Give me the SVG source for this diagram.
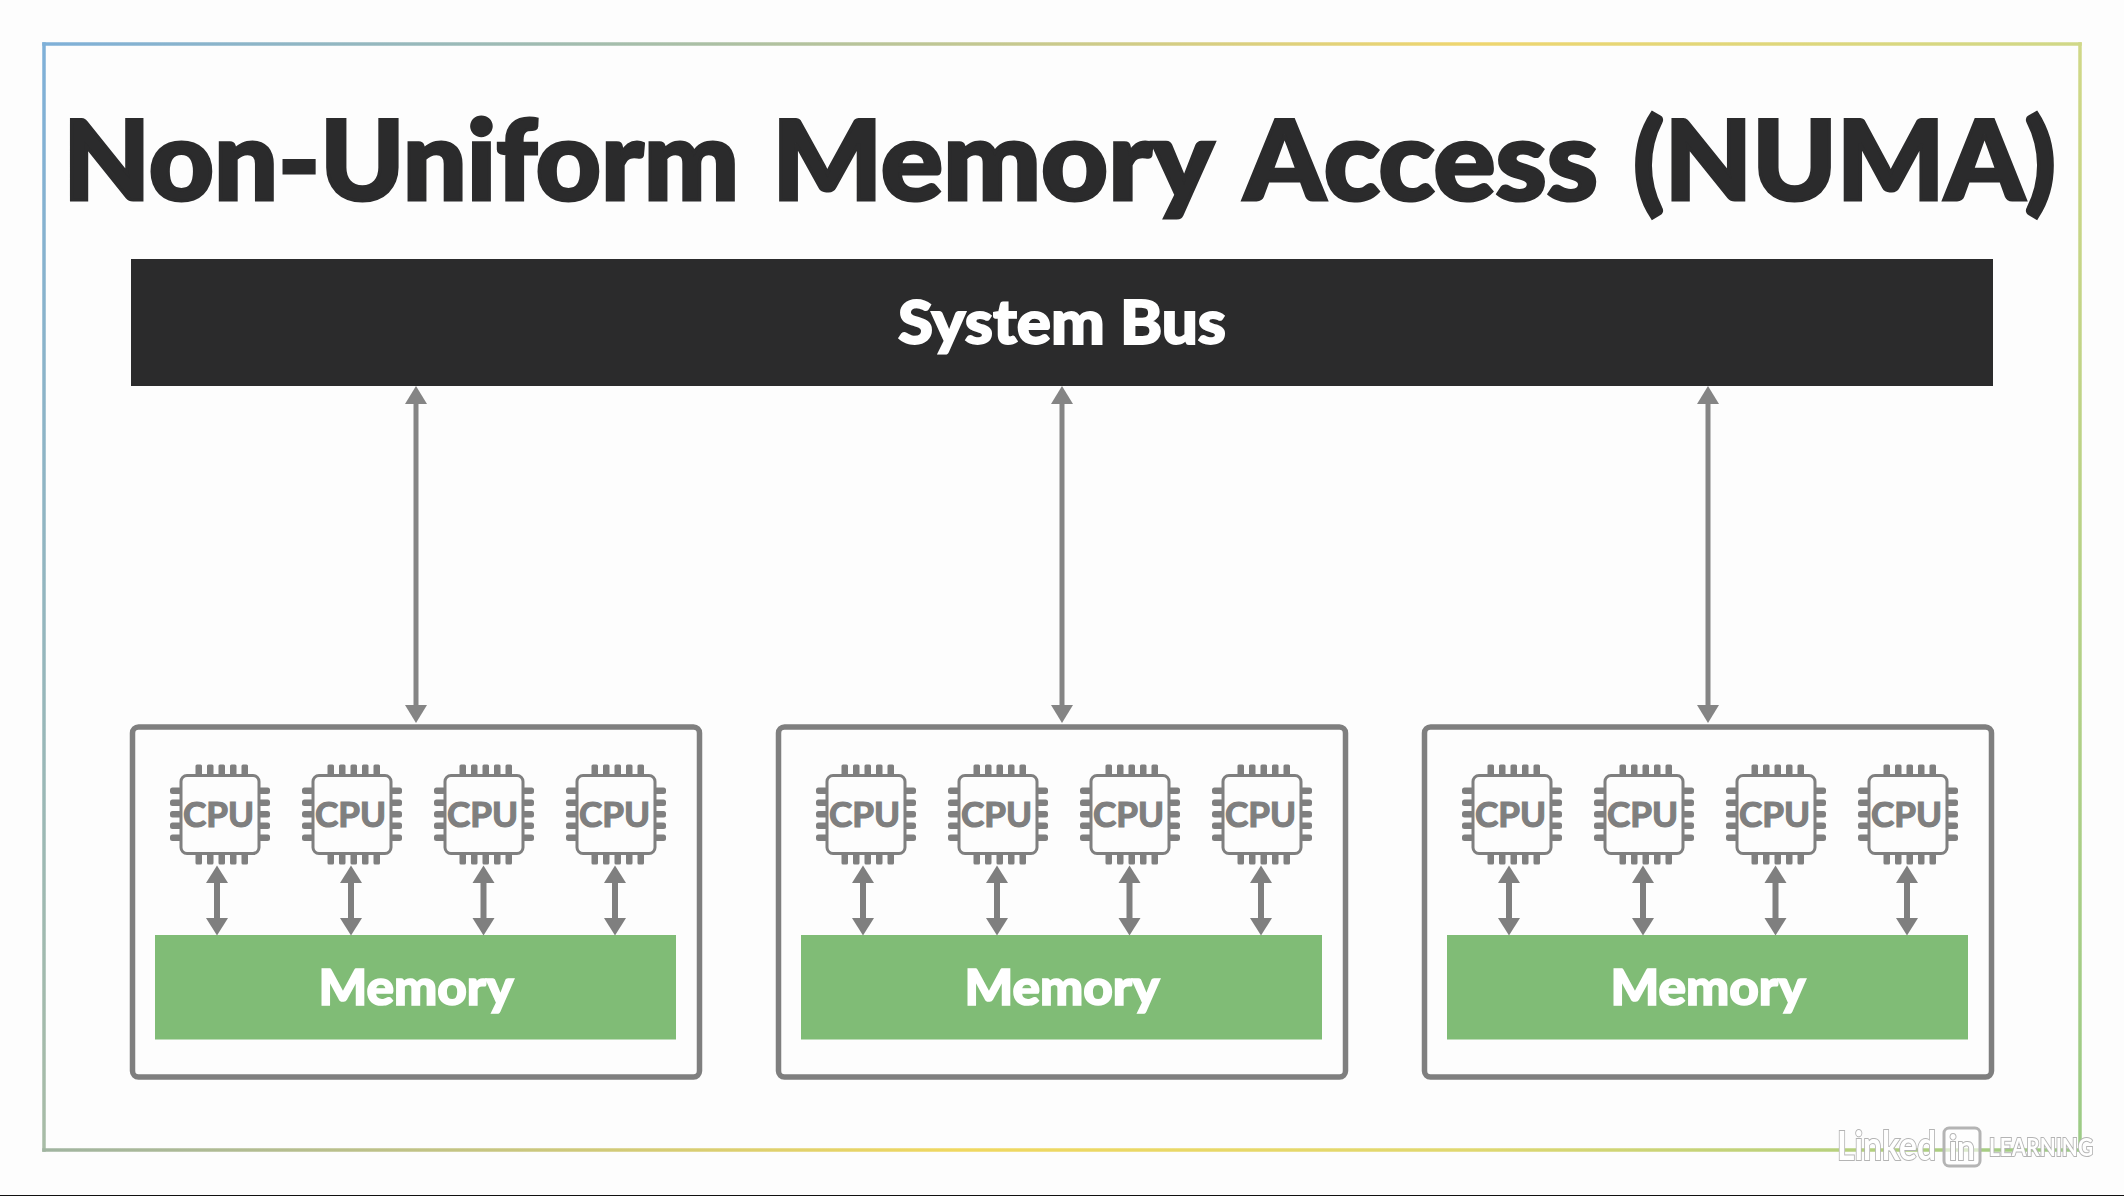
<svg xmlns="http://www.w3.org/2000/svg" width="2124" height="1196" viewBox="0 0 2124 1196">
  <style>
    text { font-family: "Lato", "Liberation Sans", sans-serif; }
    .title { font-size: 110px; font-weight: 900; fill: #2b2b2c; stroke: #2b2b2c; stroke-width: 3.2; }
    .bus { fill: #2b2b2c; }
    .busl { font-size: 60px; font-weight: 900; fill: #ffffff; stroke: #ffffff; stroke-width: 1.8; text-anchor: middle; }
    .box { fill: #fdfdfd; stroke: #7f7f7f; stroke-width: 5.5; }
    .mem { fill: #80bc76; }
    .meml { font-size: 49px; font-weight: 900; fill: #ffffff; stroke: #ffffff; stroke-width: 1.6; text-anchor: middle; }
    .cpul { font-size: 34px; font-weight: 700; fill: #7f7f7f; stroke: #7f7f7f; stroke-width: 1.2; text-anchor: middle; }
    .big { stroke: #858585; stroke-width: 5; fill: none; marker-start: url(#bigHead); marker-end: url(#bigHead); }
    .small { stroke: #7f7f7f; stroke-width: 6; fill: none; marker-start: url(#smallHead); marker-end: url(#smallHead); }
    .frame { stroke-width: 3.5; fill: none; stroke-linecap: square; }
    .wm { fill: #ffffff; stroke: #b4b4b4; stroke-width: 2; paint-order: stroke; }
  </style>
  <defs>
    <linearGradient id="fTop" gradientUnits="userSpaceOnUse" x1="44" y1="0" x2="2080" y2="0">
      <stop offset="0" stop-color="#7fb0d8"/><stop offset="0.33" stop-color="#acc0a4"/><stop offset="0.7" stop-color="#efd670"/><stop offset="1" stop-color="#d0d888"/>
    </linearGradient>
    <linearGradient id="fLeft" gradientUnits="userSpaceOnUse" x1="0" y1="44" x2="0" y2="1150">
      <stop offset="0" stop-color="#7fb0d8"/><stop offset="1" stop-color="#a8bca6"/>
    </linearGradient>
    <linearGradient id="fBottom" gradientUnits="userSpaceOnUse" x1="44" y1="0" x2="2080" y2="0">
      <stop offset="0" stop-color="#a0b4a0"/><stop offset="0.45" stop-color="#f0d860"/><stop offset="0.7" stop-color="#e0d870"/><stop offset="1" stop-color="#9ccb86"/>
    </linearGradient>
    <linearGradient id="fRight" gradientUnits="userSpaceOnUse" x1="0" y1="44" x2="0" y2="1150">
      <stop offset="0" stop-color="#d0d888"/><stop offset="1" stop-color="#9ccb86"/>
    </linearGradient>
    <filter id="soft" x="-5%" y="-20%" width="110%" height="140%"><feGaussianBlur stdDeviation="0.7"/></filter>
    <marker id="bigHead" markerUnits="userSpaceOnUse" markerWidth="20" markerHeight="24" refX="0" refY="12" orient="auto-start-reverse">
      <path d="M0 1 L18 12 L0 23 Z" fill="#858585"/>
    </marker>
    <marker id="smallHead" markerUnits="userSpaceOnUse" markerWidth="19" markerHeight="24" refX="0" refY="12" orient="auto-start-reverse">
      <path d="M0 1 L17.500 12 L0 23 Z" fill="#7f7f7f"/>
    </marker>
    <g id="chip">
      <g fill="#7f7f7f">
        <rect x="-24.500" y="-50" width="6.5" height="12" rx="1.5"/><rect x="-13" y="-50" width="6.5" height="12" rx="1.5"/><rect x="-1.500" y="-50" width="6.5" height="12" rx="1.5"/><rect x="10" y="-50" width="6.5" height="12" rx="1.5"/><rect x="21.500" y="-50" width="6.5" height="12" rx="1.5"/>
        <rect x="-24.500" y="38" width="6.5" height="12" rx="1.5"/><rect x="-13" y="38" width="6.5" height="12" rx="1.5"/><rect x="-1.500" y="38" width="6.5" height="12" rx="1.5"/><rect x="10" y="38" width="6.5" height="12" rx="1.5"/><rect x="21.500" y="38" width="6.5" height="12" rx="1.5"/>
        <rect x="-50" y="-27" width="12" height="6.5" rx="2.5"/><rect x="-50" y="-15" width="12" height="6.5" rx="2.5"/><rect x="-50" y="-3.500" width="12" height="6.5" rx="2.5"/><rect x="-50" y="8" width="12" height="6.5" rx="2.5"/><rect x="-50" y="20" width="12" height="6.5" rx="2.5"/>
        <rect x="38" y="-27" width="12" height="6.5" rx="2.5"/><rect x="38" y="-15" width="12" height="6.5" rx="2.5"/><rect x="38" y="-3.500" width="12" height="6.5" rx="2.5"/><rect x="38" y="8" width="12" height="6.5" rx="2.5"/><rect x="38" y="20" width="12" height="6.5" rx="2.5"/>
      </g>
      <rect x="-39" y="-39" width="78" height="78" rx="6" fill="#fdfdfd" stroke="#7f7f7f" stroke-width="3"/>
      <text class="cpul" x="-1.500" y="12" textLength="71" lengthAdjust="spacingAndGlyphs">CPU</text>
    </g>
  </defs>

  <rect x="0" y="0" width="2124" height="1196" fill="#fdfdfd"/>
  <rect x="0" y="1195" width="2124" height="1" fill="#111111"/>

  <g id="frame">
    <line class="frame" x1="44" y1="44" x2="2080" y2="44" stroke="url(#fTop)"/>
    <line class="frame" x1="44" y1="44" x2="44" y2="1150" stroke="url(#fLeft)"/>
    <line class="frame" x1="44" y1="1150" x2="2080" y2="1150" stroke="url(#fBottom)"/>
    <line class="frame" x1="2080" y1="44" x2="2080" y2="1150" stroke="url(#fRight)"/>
  </g>

  <g id="title">
    <text class="title" y="199.5"><tspan x="63" textLength="676" lengthAdjust="spacingAndGlyphs">Non-Uniform</tspan> <tspan x="772" textLength="439" lengthAdjust="spacingAndGlyphs">Memory</tspan> <tspan x="1244" textLength="354" lengthAdjust="spacingAndGlyphs">Access</tspan> <tspan x="1633" textLength="423" lengthAdjust="spacingAndGlyphs">(NUMA)</tspan></text>
  </g>

  <g id="system-bus">
    <rect class="bus" x="131" y="259" width="1862" height="127"/>
    <text class="busl" x="1062" y="344" textLength="328" lengthAdjust="spacingAndGlyphs">System Bus</text>
  </g>

  <g id="node-1">
    <rect class="box" x="132.5" y="727" width="567" height="350" rx="6"/>
    <rect class="mem" x="155" y="935" width="521" height="104.500"/>
    <text class="meml" x="416" y="1005" textLength="195" lengthAdjust="spacingAndGlyphs">Memory</text>
    <use id="cpu-1-1" href="#chip" x="220" y="814.500"/>
    <use id="cpu-1-2" href="#chip" x="352" y="814.500"/>
    <use id="cpu-1-3" href="#chip" x="484" y="814.500"/>
    <use id="cpu-1-4" href="#chip" x="616" y="814.500"/>
  </g>
  <g id="node-2">
    <rect class="box" x="778.5" y="727" width="567" height="350" rx="6"/>
    <rect class="mem" x="801" y="935" width="521" height="104.500"/>
    <text class="meml" x="1062" y="1005" textLength="195" lengthAdjust="spacingAndGlyphs">Memory</text>
    <use id="cpu-2-1" href="#chip" x="866" y="814.500"/>
    <use id="cpu-2-2" href="#chip" x="998" y="814.500"/>
    <use id="cpu-2-3" href="#chip" x="1130" y="814.500"/>
    <use id="cpu-2-4" href="#chip" x="1262" y="814.500"/>
  </g>
  <g id="node-3">
    <rect class="box" x="1424.5" y="727" width="567" height="350" rx="6"/>
    <rect class="mem" x="1447" y="935" width="521" height="104.500"/>
    <text class="meml" x="1708" y="1005" textLength="195" lengthAdjust="spacingAndGlyphs">Memory</text>
    <use id="cpu-3-1" href="#chip" x="1512" y="814.500"/>
    <use id="cpu-3-2" href="#chip" x="1644" y="814.500"/>
    <use id="cpu-3-3" href="#chip" x="1776" y="814.500"/>
    <use id="cpu-3-4" href="#chip" x="1908" y="814.500"/>
  </g>

  <g id="connectors">
    <line class="big" x1="416" y1="404" x2="416" y2="705"/>
    <line class="big" x1="1062" y1="404" x2="1062" y2="705"/>
    <line class="big" x1="1708" y1="404" x2="1708" y2="705"/>
    <line class="small" x1="217" y1="883" x2="217" y2="918"/>
    <line class="small" x1="351" y1="883" x2="351" y2="918"/>
    <line class="small" x1="483.500" y1="883" x2="483.500" y2="918"/>
    <line class="small" x1="615" y1="883" x2="615" y2="918"/>
    <line class="small" x1="863" y1="883" x2="863" y2="918"/>
    <line class="small" x1="997" y1="883" x2="997" y2="918"/>
    <line class="small" x1="1129.500" y1="883" x2="1129.500" y2="918"/>
    <line class="small" x1="1261" y1="883" x2="1261" y2="918"/>
    <line class="small" x1="1509" y1="883" x2="1509" y2="918"/>
    <line class="small" x1="1643" y1="883" x2="1643" y2="918"/>
    <line class="small" x1="1775.500" y1="883" x2="1775.500" y2="918"/>
    <line class="small" x1="1907" y1="883" x2="1907" y2="918"/>
  </g>

  <g id="watermark" filter="url(#soft)">
    <text class="wm" x="1837" y="1160" font-size="40" font-weight="700" textLength="99" lengthAdjust="spacingAndGlyphs">Linked</text>
    <rect x="1944" y="1128" width="36" height="38" rx="5" fill="#ffffff" fill-opacity="0.6" stroke="#b4b4b4" stroke-width="3"/>
    <text class="wm" x="1949" y="1160" font-size="34" font-weight="700" textLength="26" lengthAdjust="spacingAndGlyphs">in</text>
    <text class="wm" x="1989" y="1156" font-size="24" font-weight="700" textLength="104" lengthAdjust="spacingAndGlyphs">LEARNING</text>
  </g>
</svg>
